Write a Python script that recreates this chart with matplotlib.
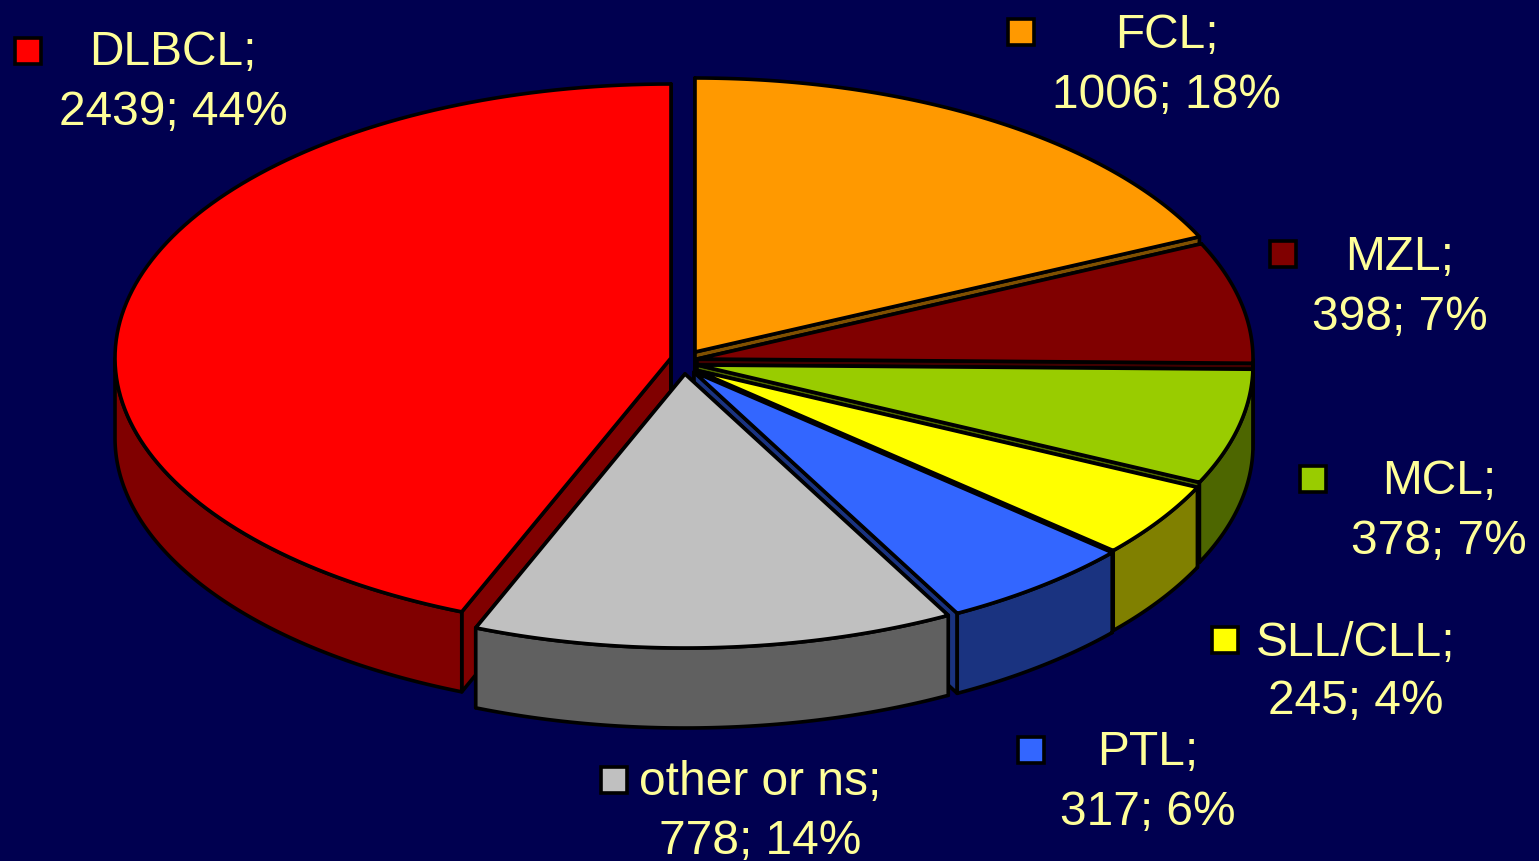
import matplotlib
matplotlib.use("Agg")
import matplotlib.pyplot as plt
import numpy as np
from matplotlib.patches import Polygon, Rectangle

# clockwise from 12 o'clock, same order as the pie
names = ["FCL", "MZL", "MCL", "SLL/CLL", "PTL", "other or ns", "DLBCL"]
counts = [1006, 398, 378, 245, 317, 778, 2439]

topColors = ["#FF9900", "#800000", "#99CC00", "#FFFF00", "#3366FF", "#C0C0C0", "#FF0000"]
sideColors = ["#805000", "#400000", "#4D6600", "#808000", "#1A3380", "#606060", "#800000"]

# apex of every exploded slice, in pixels
apexes = [(695, 352), (697, 359), (697, 365), (695, 370), (694, 372), (685, 374), (671, 358)]
# back to front, so nearer slices hide the cut faces of the others
drawOrder = [0, 1, 2, 3, 4, 6, 5]

# key x, key y, text x, first baseline, second baseline
labelSpots = [
    (1021, 32, 1167, 48, 108),
    (1283, 254, 1400, 270, 330),
    (1313, 479, 1439, 494, 554),
    (1225, 640, 1356, 656, 714),
    (1031, 750, 1148, 765, 825),
    (614, 780, 760, 795, 854),
    (28, 51, 173, 65, 125),
]

radiusX = 556
radiusY = 274
depth = 80
bgColor = "#000050"
textColor = "#FFFF99"
edgeWidth = 2.6

plt.rcParams['font.family'] = ['Liberation Sans', 'DejaVu Sans']

fig = plt.figure(figsize=(15.39, 8.61), dpi=100, facecolor=bgColor)
ax = fig.add_axes([0, 0, 1, 1])
ax.set_xlim(0, 1539)
ax.set_ylim(861, 0)
ax.axis("off")


def rimPoints(apex, startAngle, endAngle):
    angles = np.radians(np.linspace(startAngle, endAngle, 120))
    x = apex[0] + radiusX * np.sin(angles)
    y = apex[1] - radiusY * np.cos(angles)
    return np.column_stack([x, y])


def addShape(points, color, order):
    ax.add_patch(Polygon(points, closed=True, facecolor=color, edgecolor="black",
                         linewidth=edgeWidth, joinstyle="round", zorder=order))


total = sum(counts)
edges = np.concatenate([[0], np.cumsum(counts)]) / total * 360

order = 1
for i in drawOrder:
    apex = np.array(apexes[i], dtype=float)
    start, end = edges[i], edges[i + 1]
    rim = rimPoints(apex, start, end)
    drop = np.array([0, depth])

    # the two cut faces
    for edgePoint in (rim[0], rim[-1]):
        addShape([apex, edgePoint, edgePoint + drop, apex + drop], sideColors[i], order)
        order += 1

    # outer wall, only the part that faces the viewer
    wallStart, wallEnd = max(start, 90), min(end, 270)
    if wallStart < wallEnd:
        wall = rimPoints(apex, wallStart, wallEnd)
        addShape(np.vstack([wall, (wall + drop)[::-1]]), sideColors[i], order)
        order += 1

    addShape(np.vstack([apex, rim]), topColors[i], order)
    order += 1

for i, name in enumerate(names):
    keyX, keyY, textX, line1, line2 = labelSpots[i]
    ax.add_patch(Rectangle((keyX - 13, keyY - 13), 26, 26, facecolor=topColors[i],
                           edgecolor="black", linewidth=edgeWidth, zorder=order))
    percent = round(counts[i] / total * 100)
    ax.text(textX, line1, f"{name};", color=textColor, fontsize=34.5,
            ha="center", va="baseline", zorder=order)
    ax.text(textX, line2, f"{counts[i]}; {percent}%", color=textColor, fontsize=34.5,
            ha="center", va="baseline", zorder=order)

fig.savefig("out.png", dpi=100, facecolor=bgColor)
